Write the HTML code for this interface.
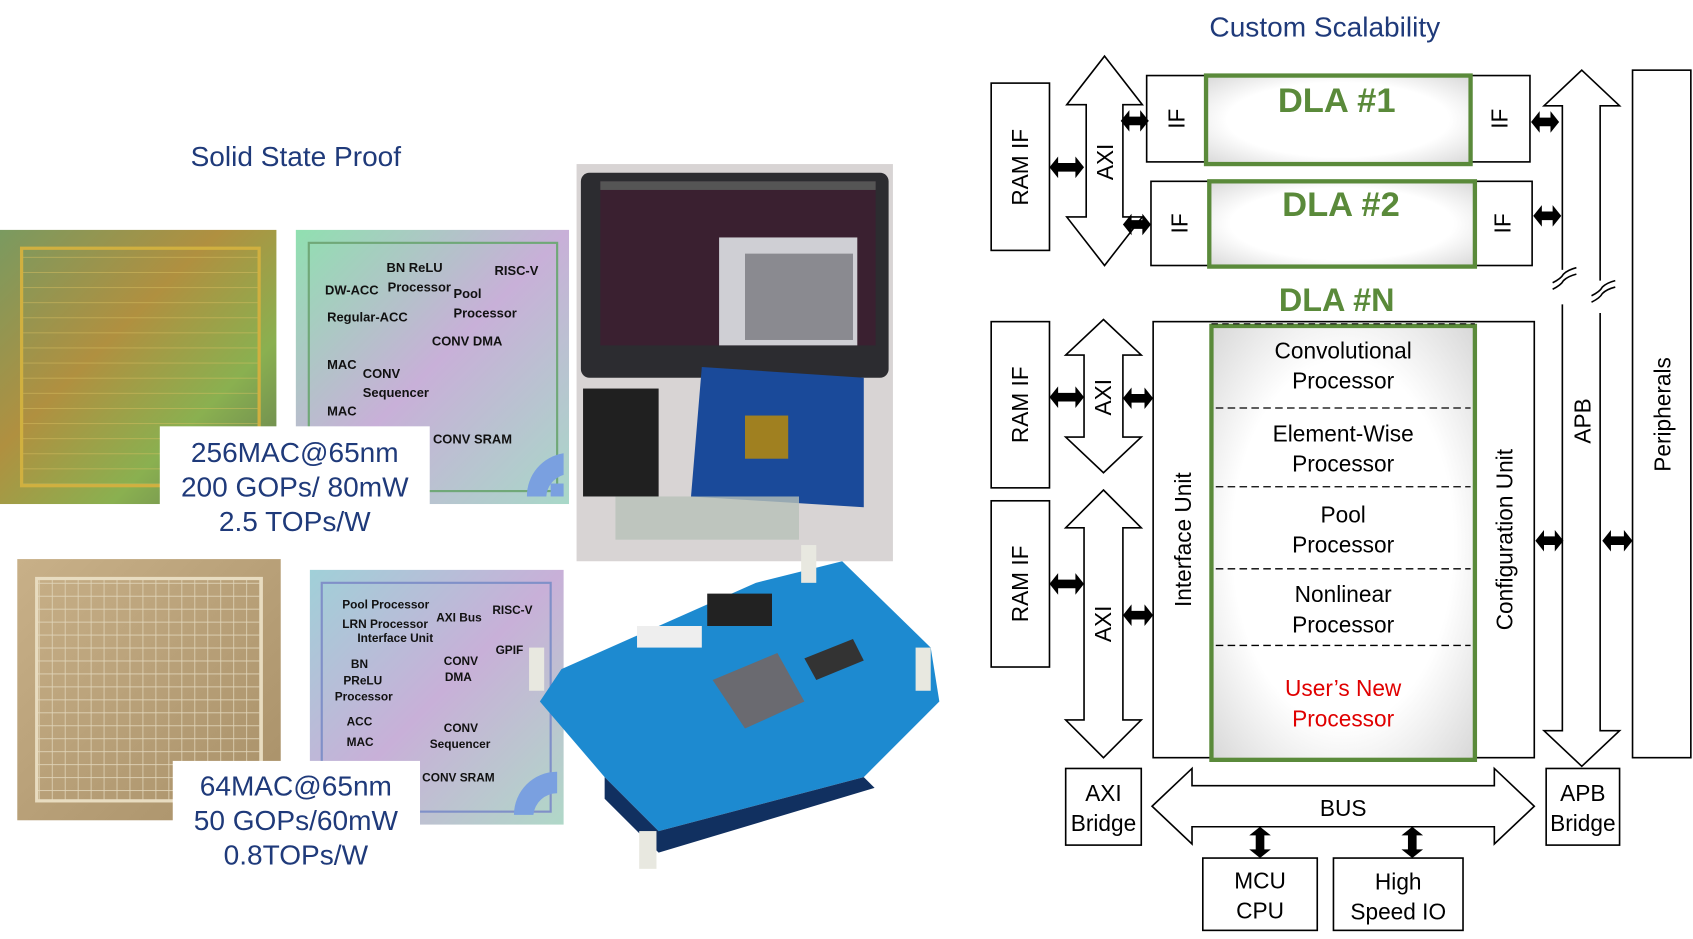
<!DOCTYPE html>
<html><head><meta charset="utf-8"><style>
html,body{margin:0;padding:0;background:#fff;width:1693px;height:939px;overflow:hidden}
svg{display:block}
text{font-family:"Liberation Sans",sans-serif}
</style></head><body>
<svg width="1693" height="939" viewBox="0 0 1568 870" preserveAspectRatio="none" xmlns="http://www.w3.org/2000/svg">
<defs>
<radialGradient id="gg" cx="0.5" cy="0.5" r="0.7"><stop offset="0.6" stop-color="#fff"/><stop offset="1" stop-color="#d8d8d8"/></radialGradient>
<linearGradient id="chip1" x1="0" y1="0" x2="1" y2="1"><stop offset="0" stop-color="#7a9a60"/><stop offset="0.4" stop-color="#b09040"/><stop offset="0.7" stop-color="#8ab050"/><stop offset="1" stop-color="#607850"/></linearGradient>
<linearGradient id="lay" x1="0" y1="0" x2="1" y2="1"><stop offset="0" stop-color="#90e0b0"/><stop offset="0.5" stop-color="#c8b0d8"/><stop offset="1" stop-color="#a8d8c8"/></linearGradient>
<linearGradient id="lay2" x1="0" y1="0" x2="1" y2="1"><stop offset="0" stop-color="#a0d0d8"/><stop offset="0.5" stop-color="#c8b0d8"/><stop offset="1" stop-color="#b0d8c8"/></linearGradient>
<linearGradient id="chip2" x1="0" y1="0" x2="1" y2="1"><stop offset="0" stop-color="#c8b088"/><stop offset="1" stop-color="#a89068"/></linearGradient>
<pattern id="grid" width="12" height="12" patternUnits="userSpaceOnUse"><path d="M0 0H12M0 0V12" stroke="#e0d4b8" stroke-width="1.5" fill="none"/></pattern>
<pattern id="grid1" width="10" height="14" patternUnits="userSpaceOnUse"><path d="M0 0H10" stroke="#d8c060" stroke-width="1.5" fill="none" opacity="0.6"/></pattern>
</defs>

<text x="274" y="154" font-size="26" fill="#1f3a7a" text-anchor="middle">Solid State Proof</text>
<rect x="0" y="213" width="256" height="254" fill="url(#chip1)"/>
<rect x="20" y="230" width="220" height="220" fill="url(#grid1)" stroke="#d0b040" stroke-width="3"/>
<rect x="274" y="213" width="253" height="254" fill="url(#lay)"/>
<rect x="286" y="225" width="230" height="230" fill="none" stroke="#70a878" stroke-width="2"/>
<g font-size="12" font-weight="bold" fill="#111">
<text x="358" y="252">BN ReLU</text><text x="458" y="255">RISC-V</text>
<text x="301" y="273">DW-ACC</text><text x="359" y="270">Processor</text><text x="420" y="276">Pool</text>
<text x="303" y="298">Regular-ACC</text><text x="420" y="294">Processor</text>
<text x="400" y="320">CONV DMA</text><text x="303" y="342">MAC</text><text x="336" y="350">CONV</text>
<text x="336" y="368">Sequencer</text><text x="303" y="385">MAC</text><text x="401" y="411">CONV SRAM</text>
</g>
<path d="M488 460 A40 40 0 0 1 522 420 L522 440 A22 22 0 0 0 506 460Z" fill="#7aa0e0"/>
<rect x="510" y="448" width="12" height="12" fill="#7aa0e0"/>
<rect x="148" y="395" width="250" height="111" fill="#fff"/>
<g font-size="26" fill="#1f3a7a" text-anchor="middle"><text x="273" y="428">256MAC@65nm</text><text x="273" y="460">200 GOPs/ 80mW</text><text x="273" y="492">2.5 TOPs/W</text></g>

<rect x="16" y="518" width="244" height="242" fill="url(#chip2)"/>
<rect x="34" y="536" width="208" height="206" fill="url(#grid)" stroke="#e8dcc0" stroke-width="3"/>
<rect x="287" y="528" width="235" height="236" fill="url(#lay2)"/>
<rect x="298" y="540" width="212" height="212" fill="none" stroke="#8090c8" stroke-width="2"/>
<g font-size="11" font-weight="bold" fill="#111">
<text x="317" y="564">Pool Processor</text><text x="456" y="569">RISC-V</text><text x="404" y="576">AXI Bus</text>
<text x="317" y="582">LRN Processor</text><text x="331" y="595">Interface Unit</text><text x="459" y="606">GPIF</text>
<text x="325" y="619">BN</text><text x="411" y="616">CONV</text><text x="318" y="634">PReLU</text><text x="412" y="631">DMA</text>
<text x="310" y="649">Processor</text><text x="321" y="672">ACC</text><text x="411" y="678">CONV</text>
<text x="321" y="691">MAC</text><text x="398" y="693">Sequencer</text><text x="391" y="724">CONV SRAM</text>
</g>
<path d="M476 755 A40 40 0 0 1 516 715 L516 735 A22 22 0 0 0 494 755Z" fill="#7aa0e0"/>
<rect x="160" y="705" width="229" height="110" fill="#fff"/>
<g font-size="26" fill="#1f3a7a" text-anchor="middle"><text x="274" y="737">64MAC@65nm</text><text x="274" y="769">50 GOPs/60mW</text><text x="274" y="801">0.8TOPs/W</text></g>

<rect x="534" y="152" width="293" height="368" fill="#d8d4d4"/>
<rect x="538" y="160" width="285" height="190" rx="8" fill="#2c2c30"/>
<rect x="556" y="168" width="255" height="152" fill="#3a2030"/>
<rect x="556" y="168" width="255" height="8" fill="#555"/>
<rect x="666" y="220" width="128" height="100" fill="#cfcfd4"/>
<rect x="690" y="235" width="100" height="80" fill="#8a8a90"/>
<rect x="540" y="360" width="70" height="100" fill="#202020"/>
<polygon points="650,340 800,350 800,470 640,460" fill="#1a4a9a"/>
<rect x="690" y="385" width="40" height="40" fill="#a08020"/>
<rect x="570" y="460" width="170" height="40" fill="#b8c0b8" opacity="0.8"/>
<polygon points="520,620 700,540 780,520 862,600 870,650 800,720 610,770 560,720 500,650" fill="#1d8ad0"/>
<polygon points="560,720 610,770 800,720 810,730 610,790 560,740" fill="#113060"/>
<polygon points="660,630 720,605 745,650 690,675" fill="#6a6a70"/>
<polygon points="745,610 790,592 800,612 756,630" fill="#333"/>
<rect x="590" y="580" width="60" height="20" fill="#eee"/>
<rect x="655" y="550" width="60" height="30" fill="#222"/>
<rect x="490" y="600" width="14" height="40" fill="#e8e8e0"/>
<rect x="848" y="600" width="14" height="40" fill="#e8e8e0"/>
<rect x="742" y="505" width="14" height="35" fill="#e8e8e0"/>
<rect x="592" y="770" width="16" height="35" fill="#e8e8e0"/>

<text x="1227" y="34" font-size="26" fill="#1f3a7a" text-anchor="middle">Custom Scalability</text>
<g fill="#fff" stroke="#000" stroke-width="1.5">
<rect x="918" y="77" width="54" height="155"/>
<rect x="918" y="298" width="54" height="154"/>
<rect x="918" y="464" width="54" height="154"/>
<polygon points="1023,52 1058,97 1040,97 1040,201 1058,201 1023,246 988,201 1006,201 1006,97 988,97"/>
<polygon points="1022,296 1057,329 1040,329 1040,405 1057,405 1022,438 987,405 1004,405 1004,329 987,329"/>
<polygon points="1022,454 1057,489 1040,489 1040,667 1057,667 1022,702 987,667 1004,667 1004,489 987,489"/>
<rect x="1062" y="70" width="355" height="80"/>
<rect x="1066" y="168" width="353" height="78"/>
<rect x="1068" y="298" width="353" height="404"/>
<polygon points="1465,65 1500,98 1482,98 1482,677 1500,677 1465,710 1430,677 1447,677 1447,98 1430,98"/>
<rect x="1512" y="65" width="54" height="637"/>
<rect x="987" y="712" width="70" height="71"/>
<rect x="1432" y="712" width="68" height="71"/>
<polygon points="1067,747 1104,712 1104,728 1384,728 1384,712 1421,747 1384,782 1384,766 1104,766 1104,782"/>
<rect x="1114" y="795" width="106" height="67"/>
<rect x="1235" y="795" width="120" height="67"/>
</g>
<rect x="1444" y="250" width="8" height="32" fill="#fff"/>
<rect x="1479" y="260" width="8" height="30" fill="#fff"/>
<path d="M1438 262 q8 -4 10 -8 q4 -4 12 -6 M1438 268 q8 -4 10 -8 q4 -4 12 -6" stroke="#000" stroke-width="1.5" fill="none"/>
<path d="M1474 274 q8 -4 10 -8 q4 -4 12 -6 M1474 280 q8 -4 10 -8 q4 -4 12 -6" stroke="#000" stroke-width="1.5" fill="none"/>
<g fill="url(#gg)" stroke="#5a8a3a" stroke-width="4">
<rect x="1117" y="70" width="245" height="82"/>
<rect x="1120" y="168" width="246" height="79"/>
<rect x="1122" y="302" width="244" height="402"/>
</g>
<line x1="1122" y1="300" x2="1366" y2="300" stroke="#000" stroke-width="1" stroke-dasharray="6,4"/>
<g stroke="#000" stroke-width="1.2" stroke-dasharray="7,4">
<line x1="1126" y1="378" x2="1362" y2="378"/><line x1="1126" y1="451" x2="1362" y2="451"/>
<line x1="1126" y1="527" x2="1362" y2="527"/><line x1="1126" y1="598" x2="1362" y2="598"/>
</g>
<g font-weight="bold" fill="#5a8a3a" font-size="32" text-anchor="middle">
<text x="1238" y="104">DLA #1</text><text x="1242" y="200">DLA #2</text><text x="1238" y="288" font-size="30">DLA #N</text>
</g>
<g font-size="21" text-anchor="middle" fill="#000">
<text x="1244" y="332">Convolutional</text><text x="1244" y="360">Processor</text>
<text x="1244" y="409">Element-Wise</text><text x="1244" y="437">Processor</text>
<text x="1244" y="484">Pool</text><text x="1244" y="512">Processor</text>
<text x="1244" y="558">Nonlinear</text><text x="1244" y="586">Processor</text>
<text x="1244" y="645" fill="#e00000">User’s New</text><text x="1244" y="673" fill="#e00000">Processor</text>
<text x="1244" y="756">BUS</text>
<text x="1022" y="742">AXI</text><text x="1022" y="770">Bridge</text>
<text x="1466" y="742">APB</text><text x="1466" y="770">Bridge</text>
<text x="1167" y="823">MCU</text><text x="1167" y="851">CPU</text>
<text x="1295" y="824">High</text><text x="1295" y="852">Speed IO</text>
</g>
<g font-size="21" text-anchor="middle" fill="#000">
<text transform="translate(952,155) rotate(-90)">RAM IF</text>
<text transform="translate(952,375) rotate(-90)">RAM IF</text>
<text transform="translate(952,541) rotate(-90)">RAM IF</text>
<text transform="translate(1031,150) rotate(-90)">AXI</text>
<text transform="translate(1029,368) rotate(-90)">AXI</text>
<text transform="translate(1029,578) rotate(-90)">AXI</text>
<text transform="translate(1097,110) rotate(-90)">IF</text>
<text transform="translate(1396,110) rotate(-90)">IF</text>
<text transform="translate(1100,207) rotate(-90)">IF</text>
<text transform="translate(1399,207) rotate(-90)">IF</text>
<text transform="translate(1103,500) rotate(-90)">Interface Unit</text>
<text transform="translate(1401,500) rotate(-90)">Configuration Unit</text>
<text transform="translate(1473,390) rotate(-90)">APB</text>
<text transform="translate(1547,384) rotate(-90)">Peripherals</text>
</g>
<g fill="#000">
<polygon points="972,155 980,145 980,151 996,151 996,145 1004,155 996,165 996,159 980,159 980,165"/>
<polygon points="1038,112 1046,102 1046,108 1056,108 1056,102 1064,112 1056,122 1056,116 1046,116 1046,122"/>
<polygon points="1040,208 1048,198 1048,204 1058,204 1058,198 1066,208 1058,218 1058,212 1048,212 1048,218"/>
<polygon points="1418,113 1426,103 1426,109 1436,109 1436,103 1444,113 1436,123 1436,117 1426,117 1426,123"/>
<polygon points="1420,200 1428,190 1428,196 1438,196 1438,190 1446,200 1438,210 1438,204 1428,204 1428,210"/>
<polygon points="972,368 980,358 980,364 996,364 996,358 1004,368 996,378 996,372 980,372 980,378"/>
<polygon points="1040,369 1048,359 1048,365 1060,365 1060,359 1068,369 1060,379 1060,373 1048,373 1048,379"/>
<polygon points="972,541 980,531 980,537 996,537 996,531 1004,541 996,551 996,545 980,545 980,551"/>
<polygon points="1040,570 1048,560 1048,566 1060,566 1060,560 1068,570 1060,580 1060,574 1048,574 1048,580"/>
<polygon points="1422,501 1430,491 1430,497 1440,497 1440,491 1448,501 1440,511 1440,505 1430,505 1430,511"/>
<polygon points="1484,501 1492,491 1492,497 1504,497 1504,491 1512,501 1504,511 1504,505 1492,505 1492,511"/>
<polygon points="1167,766 1177,774 1171,774 1171,787 1177,787 1167,795 1157,787 1163,787 1163,774 1157,774"/>
<polygon points="1308,766 1318,774 1312,774 1312,787 1318,787 1308,795 1298,787 1304,787 1304,774 1298,774"/>
</g>
</svg>
</body></html>
